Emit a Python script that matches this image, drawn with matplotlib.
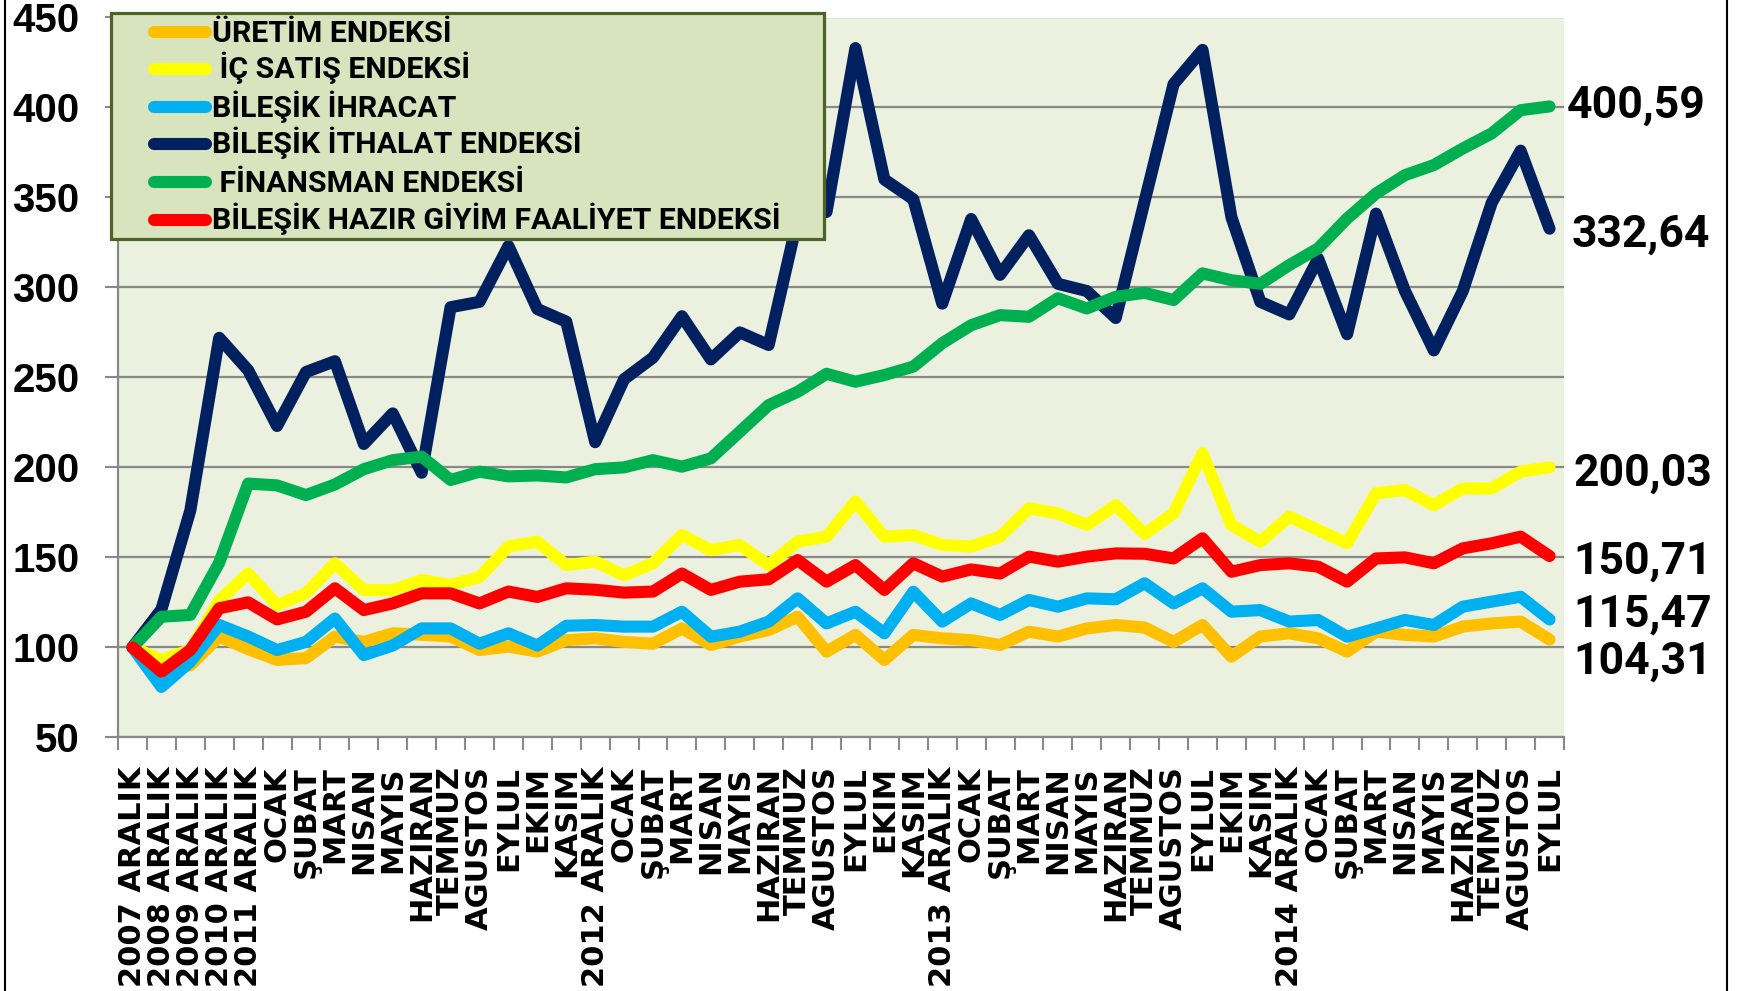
import matplotlib
matplotlib.use("Agg")
import matplotlib.pyplot as plt
from matplotlib.patches import Rectangle
from matplotlib.lines import Line2D
import numpy as np

# ---------------- data ----------------
categories = [
    "2007 ARALIK", "2008 ARALIK", "2009 ARALIK", "2010 ARALIK", "2011 ARALIK",
    "OCAK", "ŞUBAT", "MART", "NISAN", "MAYIS", "HAZIRAN", "TEMMUZ", "AGUSTOS",
    "EYLUL", "EKIM", "KASIM", "2012 ARALIK",
    "OCAK", "ŞUBAT", "MART", "NISAN", "MAYIS", "HAZIRAN", "TEMMUZ", "AGUSTOS",
    "EYLUL", "EKIM", "KASIM", "2013 ARALIK",
    "OCAK", "ŞUBAT", "MART", "NISAN", "MAYIS", "HAZIRAN", "TEMMUZ", "AGUSTOS",
    "EYLUL", "EKIM", "KASIM", "2014 ARALIK",
    "OCAK", "ŞUBAT", "MART", "NISAN", "MAYIS", "HAZIRAN", "TEMMUZ", "AGUSTOS",
    "EYLUL",
]

uretim = [100, 87, 90, 105.9, 99, 93, 94, 105.9, 103, 107.8, 107, 106, 98.5,
          100.4, 97.6, 104, 105, 103, 102, 110.5, 101.3, 106, 109.6, 117, 97.6,
          106.9, 93, 106.9, 105, 104, 101.3, 108.7, 106, 110.5, 112.4, 111, 103,
          112.4, 94.8, 106, 107.8, 105, 97.6, 108.7, 106.9, 106, 111.5, 113.3,
          114.3, 104.31]

ic_satis = [100, 93, 98.5, 126, 141, 123.5, 130, 146.7, 131.8, 131.8, 137.4,
            134.6, 139, 156, 158.7, 145.7, 147.6, 140, 146.7, 162.4, 154, 156.9,
            145.7, 158.7, 161.5, 181, 161.5, 162.4, 156.9, 156, 161.5, 177.2,
            174.4, 168, 179, 163, 174.4, 207.8, 168, 158.7, 172.6, 165.2, 157.8,
            185.6, 187.4, 179, 188.3, 188.3, 197.6, 200.03]

ihracat = [100, 78, 92, 112.4, 106, 98.5, 103, 116, 95.7, 101, 110.5, 110.5,
           102, 107.8, 101, 112, 112.4, 111.5, 111.5, 119.8, 105.9, 108.7, 114.3,
           127.2, 113.3, 119.8, 107.8, 130.9, 114.3, 124.4, 118, 126.3, 122.6,
           127.2, 126.7, 135.6, 124.4, 132.8, 119.8, 120.7, 114.3, 115.2, 105.9,
           110.5, 115.2, 112.4, 122.6, 125.4, 128.1, 115.47]

ithalat = [100, 121, 176, 272, 254, 223, 253, 259, 213, 230, 197, 289, 292, 323,
           288, 281, 214, 249, 261, 284, 260, 275, 268, 338, 342, 433, 360, 349,
           291, 338, 307, 329, 302, 298, 283, 348, 413, 432, 339, 292, 285, 316,
           274, 341, 298, 265, 298, 347, 376, 332.64]

finansman = [100, 117, 118, 147, 191, 190, 184.6, 190.5, 199, 204, 206, 193,
             197.6, 195, 195.5, 194.4, 199, 200, 204, 200.4, 205, 219.8, 234.6,
             242, 252, 247.6, 251.3, 256, 269, 279, 284.6, 283.7, 294, 288.3,
             294.8, 297, 293, 307.8, 304, 302, 312.4, 321.7, 338.3, 352.2, 362.4,
             368, 377.2, 385.6, 398.5, 400.59]

hazir_giyim = [100, 86.5, 98.5, 121.7, 125, 115.5, 119.8, 132.8, 120.7, 124.4,
               130, 130, 124.4, 131, 128, 132.8, 132, 130.4, 131, 141, 131.9,
               136.5, 137.8, 148.5, 136.5, 145.7, 131.9, 146.7, 139.3, 143.3,
               141, 150.4, 147.6, 150.4, 152.2, 152, 149.4, 160.6, 142, 145.7,
               146.7, 144.8, 136.5, 149.4, 150, 146.7, 155, 157.8, 161.5, 150.71]

series_names = ["ÜRETİM ENDEKSİ", " İÇ SATIŞ ENDEKSİ", "BİLEŞİK İHRACAT",
                "BİLEŞİK İTHALAT ENDEKSİ", " FİNANSMAN ENDEKSİ",
                "BİLEŞİK HAZIR GİYİM FAALİYET ENDEKSİ"]
series_values = [uretim, ic_satis, ihracat, ithalat, finansman, hazir_giyim]
series_colors = ["#FFC000", "#FFFF00", "#00B0F0", "#002060", "#00B050", "#FF0000"]

y_ticks = [50, 100, 150, 200, 250, 300, 350, 400, 450]

# ---------------- layout helpers ----------------
W_PX, H_PX = 1744, 991
def fx(px):
    return px / W_PX
def fy(py):
    return 1 - py / H_PX

fig = plt.figure(figsize=(W_PX / 100, H_PX / 100), dpi=100)
fig.patch.set_facecolor("white")

ax_left, ax_right, ax_top, ax_bottom = 118, 1564, 17.5, 737.3
ax = fig.add_axes([fx(ax_left), fy(ax_bottom), fx(ax_right - ax_left),
                   (ax_bottom - ax_top) / H_PX])
ax.set_facecolor("#EBF1DE")

grid_c = "#898989"
x = np.arange(len(categories))
lw_pt = 8.7
for vals, col in zip(series_values, series_colors):
    ax.plot(x, vals, color=col, lw=lw_pt, solid_capstyle="round",
            solid_joinstyle="round", zorder=3)

ax.set_xlim(-0.5, len(categories) - 0.5)
ax.set_ylim(50, 450)
ax.set_axisbelow(True)
ax.yaxis.grid(True, color=grid_c, lw=1.6)

for s in ["top", "right"]:
    ax.spines[s].set_visible(False)
for s in ["left", "bottom"]:
    ax.spines[s].set_color(grid_c)
    ax.spines[s].set_linewidth(1.6)

ax.set_yticks(y_ticks)
ax.set_yticklabels([str(v) for v in y_ticks], fontsize=29, fontweight="bold",
                   family=["Liberation Sans", "DejaVu Sans"])
ax.tick_params(axis="y", length=9.4, width=1.5, color=grid_c, pad=18.5)

ax.set_xticks(x)
ax.set_xticklabels(categories, rotation=90, fontsize=22, fontweight="bold",
                   family=["DejaVu Sans"])
ax.tick_params(axis="x", which="major", length=0, pad=20.8)
ax.set_xticks(np.arange(-0.5, len(categories)), minor=True)
ax.tick_params(axis="x", which="minor", length=9, width=1.5, color=grid_c)

# end value labels
label_offsets = {0: (24, -34), 1: (24, -18), 2: (24, -7), 3: (22, -18),
                 4: (17, -11), 5: (24, -18)}
for i, (vals, col) in enumerate(zip(series_values, series_colors)):
    v = vals[-1]
    dx, dy = label_offsets[i]
    ax.annotate(f"{v:.2f}".replace(".", ","), xy=(x[-1], v), xytext=(dx, dy),
                textcoords="offset pixels", ha="left", va="baseline",
                fontsize=32, fontweight="bold", family=["Roboto", "DejaVu Sans"],
                color="black", annotation_clip=False)

# legend (manual box)
leg_l, leg_t, leg_r, leg_b = 111, 13, 824, 239
fig.add_artist(Rectangle((fx(leg_l), fy(leg_b)), fx(leg_r - leg_l),
                         (leg_b - leg_t) / H_PX, transform=fig.transFigure,
                         facecolor="#D7E4BD", edgecolor="#4F6228", lw=2.3,
                         zorder=5))
row_base = [41.7, 78.3, 116.7, 153.3, 191.7, 229.3]
for name, col, yb in zip(series_names, series_colors, row_base):
    yc = yb - 9.7
    fig.add_artist(Line2D([fx(154), fx(206)], [fy(yc), fy(yc)],
                          transform=fig.transFigure, color=col, lw=lw_pt,
                          solid_capstyle="round", zorder=6))
    fig.text(fx(212), fy(yb), name, fontsize=21.8, fontweight="bold",
             family=["Roboto", "DejaVu Sans"], va="baseline", ha="left",
             zorder=7)

# outer frame lines
for xp in (5, 1727):
    fig.add_artist(Line2D([fx(xp), fx(xp)], [0, 1], transform=fig.transFigure,
                          color="black", lw=1.5, zorder=8))

fig.savefig("out.png", dpi=100)
